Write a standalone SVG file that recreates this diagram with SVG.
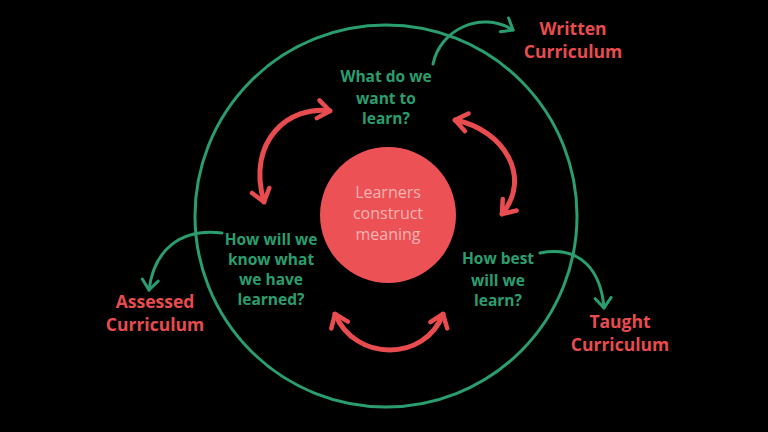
<svg xmlns="http://www.w3.org/2000/svg" width="768" height="432" viewBox="0 0 768 432">
<defs>
<style>
.q{font-family:"Open Sans","Liberation Sans",sans-serif;font-weight:700;font-size:15.5px;fill:#2a9e6f;text-anchor:middle}
.c{font-family:"Open Sans","Liberation Sans",sans-serif;font-weight:700;font-size:17.5px;fill:#e84c4f;text-anchor:middle}
.m{font-family:"Open Sans","Liberation Sans",sans-serif;font-size:16px;fill:#f6b4b4;text-anchor:middle}
.g{fill:none;stroke:#2a9e6f;stroke-width:3;stroke-linecap:round}
.r{fill:none;stroke:#e84c4f;stroke-width:5;stroke-linecap:round}
</style>
<marker id="ga" viewBox="-12 -10 14 20" markerWidth="14" markerHeight="20" markerUnits="userSpaceOnUse" orient="auto-start-reverse" refX="0" refY="0">
<path d="M-10 -8 L0 0 L-10 8" fill="none" stroke="#2a9e6f" stroke-width="3" stroke-linecap="round" stroke-linejoin="round"/>
</marker>
<marker id="ra" viewBox="-16 -12 18 24" markerWidth="18" markerHeight="24" markerUnits="userSpaceOnUse" orient="auto-start-reverse" refX="0" refY="0">
<path d="M-12 -9 L0 0 L-12 9" fill="none" stroke="#e84c4f" stroke-width="4.5" stroke-linecap="round" stroke-linejoin="round"/>
</marker>
</defs>
<rect width="768" height="432" fill="#000"/>
<g id="outer-circle"><circle cx="386" cy="216" r="191" fill="none" stroke="#2a9e6f" stroke-width="3"/></g>
<g id="center"><circle cx="388" cy="215" r="68" fill="#ec5155"/>
<text class="m" x="388" y="198">Learners</text><text class="m" x="388" y="219">construct</text><text class="m" x="388" y="240">meaning</text></g>
<g id="q-what"><text class="q" x="386" y="82">What do we</text><text class="q" x="386" y="104">want to</text><text class="q" x="386" y="124">learn?</text></g>
<g id="q-know"><text class="q" x="271" y="245">How will we</text><text class="q" x="271" y="265">know what</text><text class="q" x="271" y="285">we have</text><text class="q" x="271" y="305">learned?</text></g>
<g id="q-best"><text class="q" x="498" y="264">How best</text><text class="q" x="498" y="286">will we</text><text class="q" x="498" y="306">learn?</text></g>
<g id="written"><text class="c" x="573" y="35">Written</text><text class="c" x="573" y="58">Curriculum</text></g>
<g id="assessed"><text class="c" x="155" y="308">Assessed</text><text class="c" x="155" y="331">Curriculum</text></g>
<g id="taught"><text class="c" x="620" y="328">Taught</text><text class="c" x="620" y="351">Curriculum</text></g>
<g id="connectors">
<path class="g" d="M433 64 C440 30 480 10 513 30" marker-end="url(#ga)"/>
<path class="g" d="M222 233 C180 228 154 250 149 290" marker-end="url(#ga)"/>
<path class="g" d="M540 253 C582 245 601 272 604 308" marker-end="url(#ga)"/>
<path class="r" d="M330 111 C290 105 246 140 264 202" marker-start="url(#ra)" marker-end="url(#ra)"/>
<path class="r" d="M455 120 C505 130 532 178 502 214" marker-start="url(#ra)" marker-end="url(#ra)"/>
<path class="r" d="M335 314 C355 362 425 362 443 314" marker-start="url(#ra)" marker-end="url(#ra)"/>
</g>
</svg>
